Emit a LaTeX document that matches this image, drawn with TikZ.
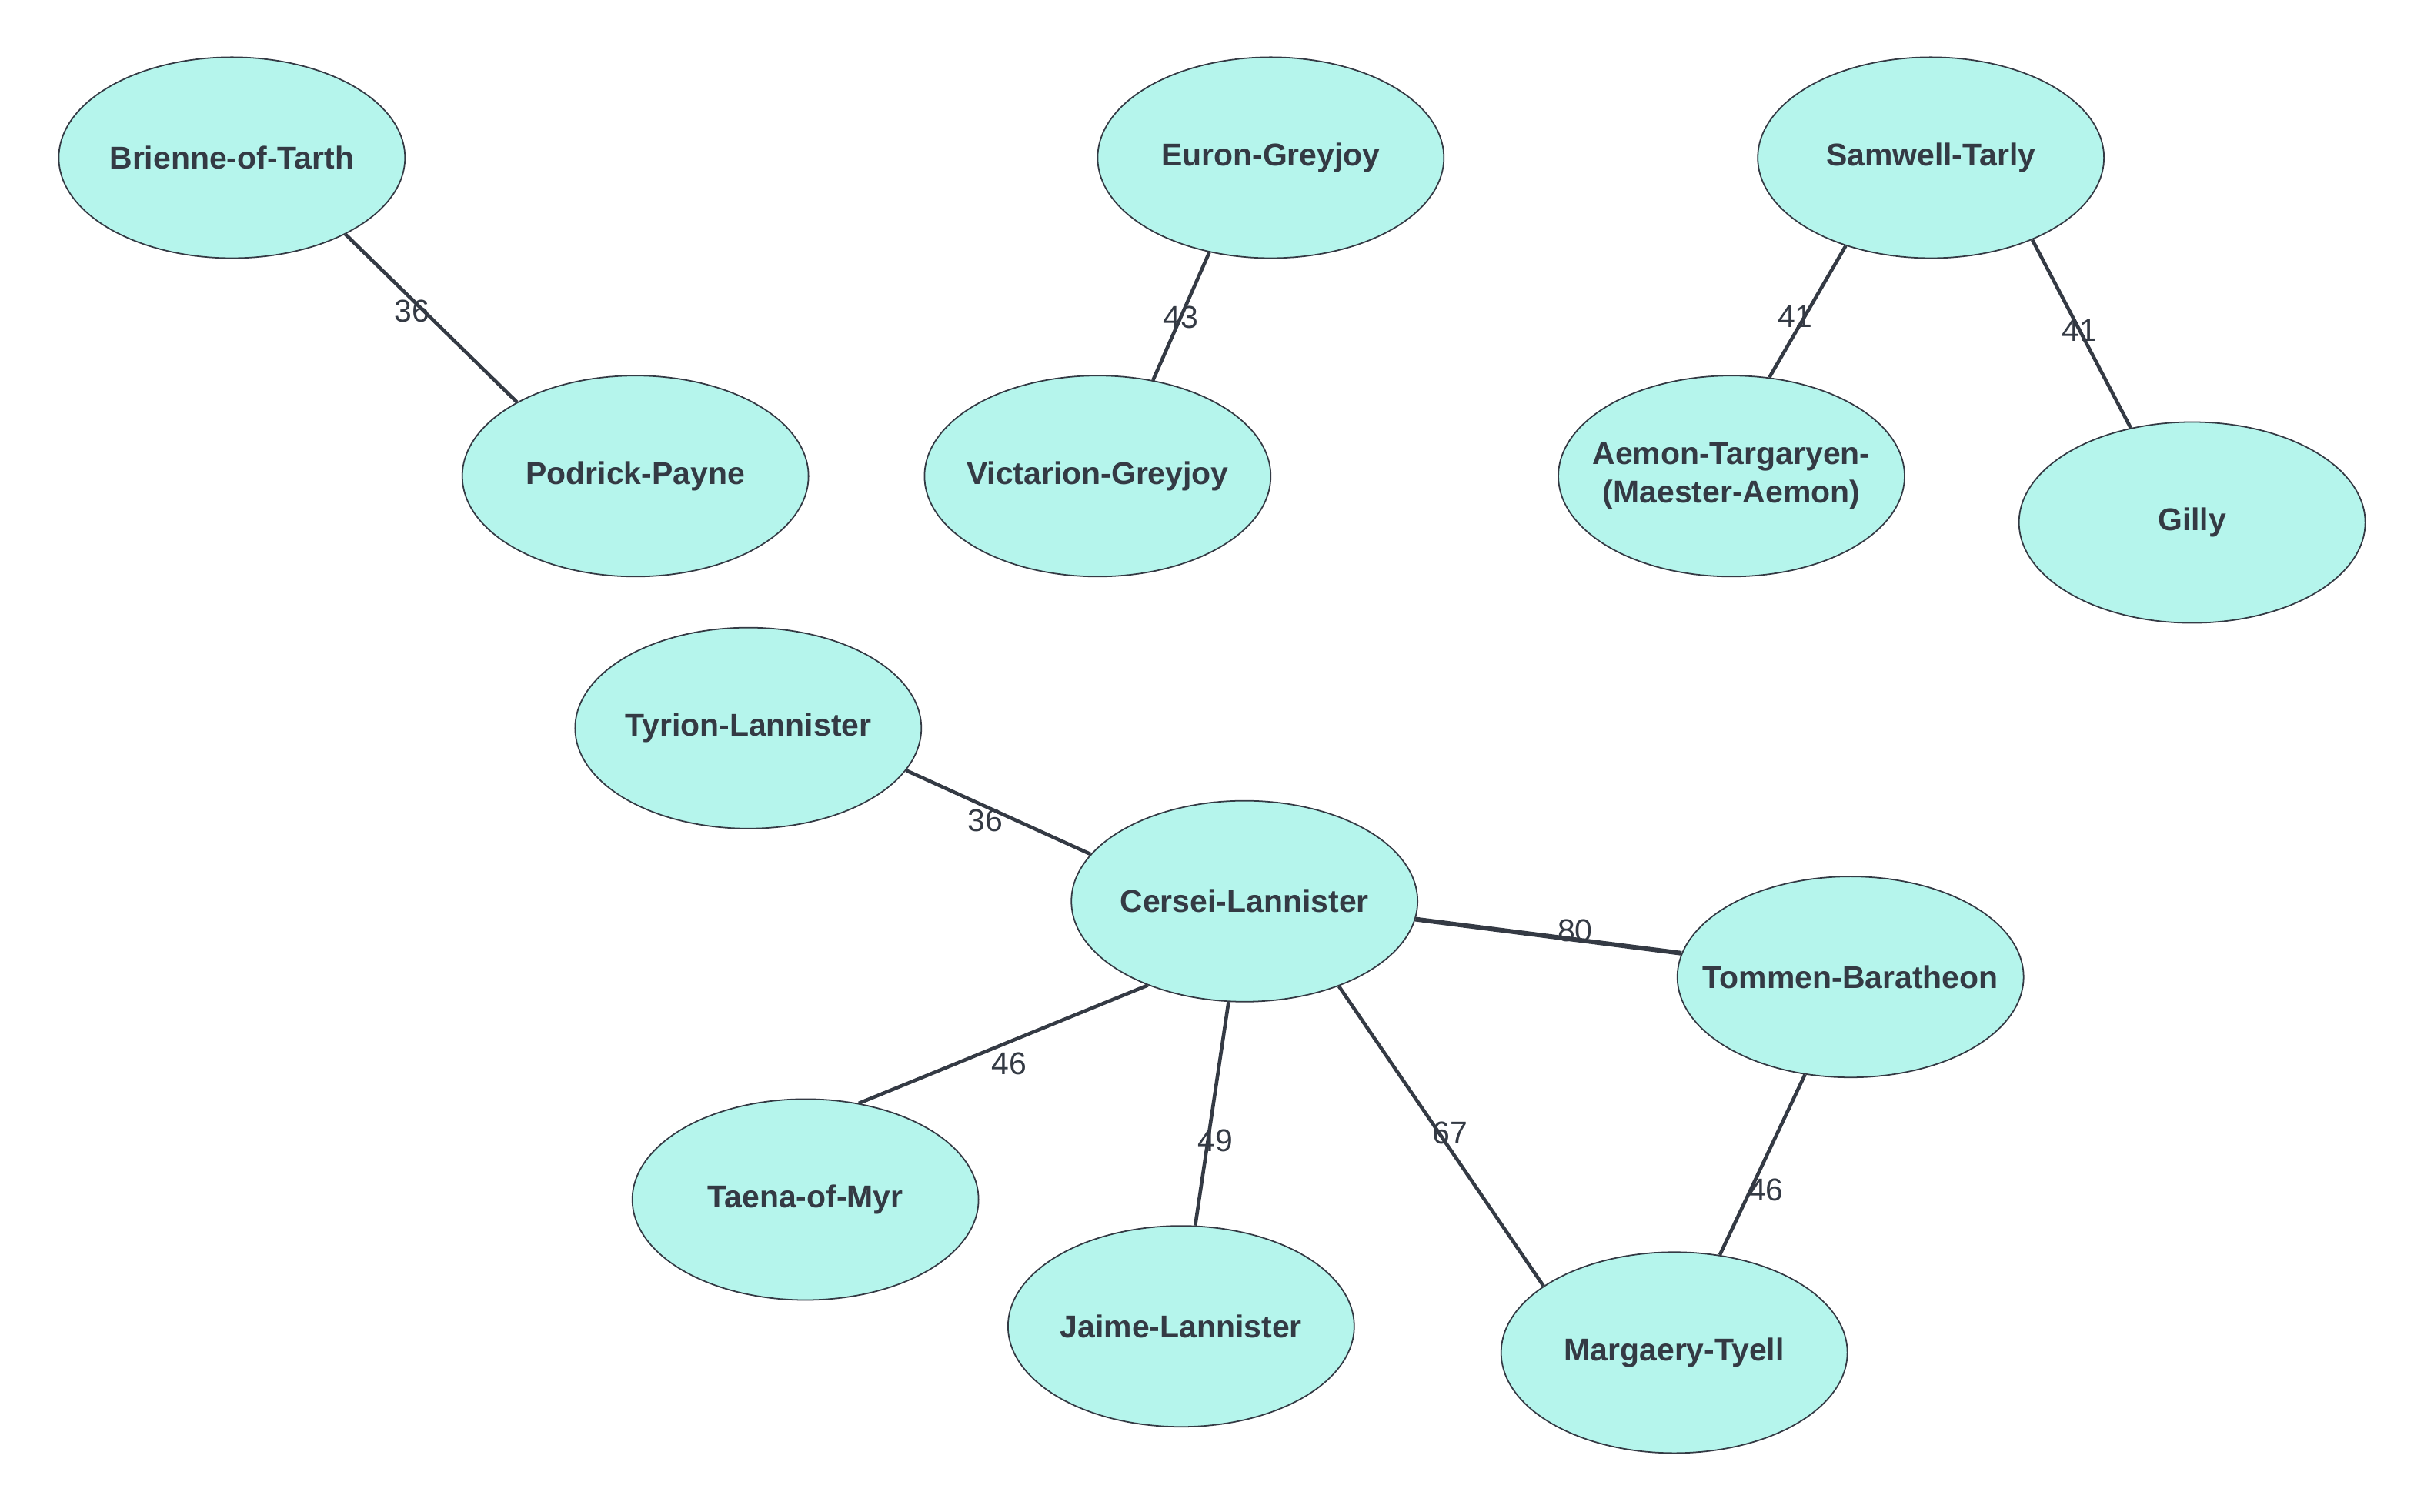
\documentclass[tikz,border=0pt]{standalone}
\usepackage{fontspec}
\setmainfont{Liberation Sans}
\usetikzlibrary{shapes.geometric}
\definecolor{nodefill}{HTML}{B5F5EC}
\definecolor{inkgray}{HTML}{343A44}
\begin{document}
\begin{tikzpicture}[x=0.02cm,y=-0.02cm,
    person/.style={ellipse,draw=inkgray,line width=0.5pt,fill=nodefill,
      minimum width=4.48cm,minimum height=2.6cm,inner xsep=-1cm,inner ysep=0pt,
      align=center,text=inkgray,font=\fontsize{11.6}{14.2}\selectfont\bfseries},
    link/.style={draw=inkgray,line width=1.3pt},
    wlabel/.style={text=inkgray,inner sep=0pt,font=\fontsize{11.6}{14}\selectfont}]
    \useasboundingbox (0,0) rectangle (1568,978);

    % upper pairs
    \node[person] (brienne) at (150,102) {Brienne-of-Tarth};
    \node[person] (podrick) at (411,308) {Podrick-Payne};
    \node[person] (euron) at (822,102) {Euron-Greyjoy};
    \node[person] (victarion) at (710,308) {Victarion-Greyjoy};
    \node[person] (samwell) at (1249,102) {Samwell-Tarly};
    \node[person] (aemon) at (1120,308) {Aemon-Targaryen-\\(Maester-Aemon)};
    \node[person] (gilly) at (1418,338) {Gilly};

    % Cersei and her group
    \node[person] (tyrion) at (484,471) {Tyrion-Lannister};
    \node[person] (cersei) at (805,583) {Cersei-Lannister};
    \node[person] (tommen) at (1197,632) {Tommen-Baratheon};
    \node[person] (taena) at (521,776) {Taena-of-Myr};
    \node[person] (jaime) at (764,858) {Jaime-Lannister};
    \node[person] (margaery) at (1083,875) {Margaery-Tyell};

    \draw[link] (brienne.-34) -- node[wlabel,pos=0.46,shift={(-8,0)}] (w1) {36} (podrick.148);
    \draw[link] (euron.237) -- node[wlabel,pos=0.51] (w2) {43} (victarion.60);
    \draw[link] (samwell.226) -- node[wlabel,pos=0.54,shift={(-6,0)}] (w3) {41} (aemon.69);
    \draw[link] (samwell.-39) -- node[wlabel,pos=0.48] (w4) {41} (gilly.123);

    \draw[link] (tyrion.-15) -- node[wlabel,pos=0.43,shift={(0,9)}] (w5) {36} (cersei.163);
    \draw[link,line width=1.7pt] (cersei.-6) -- node[wlabel,pos=0.6,shift={(0,-6)}] (w6) {80} (tommen.172);
    \draw[link] (cersei.221) -- node[wlabel,pos=0.48,shift={(0,14)}] (w7) {46} (taena.61);
    \draw[link] (cersei.261) -- node[wlabel,pos=0.62,shift={(5,0)}] (w8) {49} (jaime.82);
    \draw[link] (cersei.-42) -- node[wlabel,pos=0.49,shift={(7,0)}] (w9) {67} (margaery.153);
    \draw[link] (tommen.245) -- node[wlabel,pos=0.64,shift={(10,0)}] (w10) {46} (margaery.65);
\end{tikzpicture}
\end{document}
